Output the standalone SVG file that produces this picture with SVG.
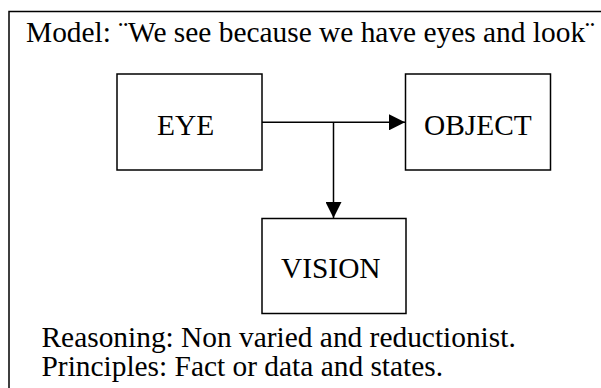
<svg xmlns="http://www.w3.org/2000/svg" width="601" height="388" viewBox="0 0 601 388">
<style>
text{font-family:"Liberation Serif","Times New Roman",serif;font-size:29.4px;fill:#000}
.box{fill:#fff;stroke:#000;stroke-width:1.5}
.ln{fill:none;stroke:#000;stroke-width:1.5}
</style>
<defs>
<marker id="ah" markerWidth="16" markerHeight="16" viewBox="0 0 16 16" refX="16" refY="8" orient="auto" markerUnits="userSpaceOnUse">
<path d="M0,0 L16,8 L0,16 Z" fill="#000"/>
</marker>
</defs>
<rect width="601" height="388" fill="#fff"/>
<g id="frame">
<rect x="9" y="11.5" width="600" height="400" class="ln"/>
<text x="26" y="42">Model: ¨We see because we have eyes and look¨</text>
<text x="41.5" y="346.5">Reasoning: Non varied and reductionist.</text>
<text x="41.5" y="375.5">Principles: Fact or data and states.</text>
</g>
<g id="connectors">
<line x1="262" y1="122.3" x2="405" y2="122.3" class="ln" marker-end="url(#ah)"/>
<line x1="333.5" y1="122.3" x2="333.5" y2="218" class="ln" marker-end="url(#ah)"/>
</g>
<g id="eye">
<rect x="117" y="74" width="145" height="96" class="box"/>
<text x="157" y="135">EYE</text>
</g>
<g id="object">
<rect x="405.5" y="74" width="145" height="96" class="box"/>
<text x="424" y="135">OBJECT</text>
</g>
<g id="vision">
<rect x="262" y="218.5" width="144" height="95" class="box"/>
<text x="281" y="278">VISION</text>
</g>
</svg>
